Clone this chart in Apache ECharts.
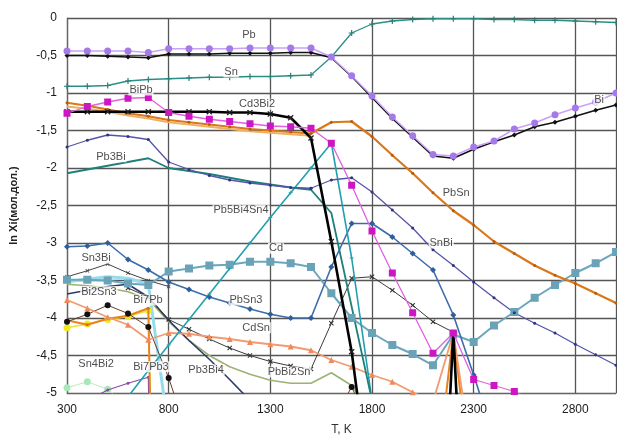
<!DOCTYPE html>
<html>
<head>
<meta charset="utf-8">
<script src="https://cdn.jsdelivr.net/npm/echarts@6/dist/echarts.min.js"></script>
<style>
  html, body { margin: 0; padding: 0; background: #fff; }
  #chart { width: 617px; height: 442px; }
</style>
</head>
<body>
<div id="chart"></div>
<script>
// Temperatures, K
const temps = [300, 400, 500, 600, 700, 800, 900, 1000, 1100, 1200, 1300, 1400, 1500, 1600,
  1700, 1800, 1900, 2000, 2100, 2200, 2300, 2400, 2500, 2600, 2700, 2800, 2900, 3000];

const N = null;
// ln Xi (mole fraction) of each species
const pb = [-0.44, -0.44, -0.44, -0.44, -0.46, -0.41, -0.41, -0.41, -0.41, -0.40, -0.40, -0.40, -0.40, -0.52,
  -0.77, -1.04, -1.32, -1.57, -1.82, -1.84, -1.72, -1.64, -1.48, -1.40, -1.29, -1.20, -1.12, -1.00];
const bi = [-0.50, -0.50, -0.51, -0.52, -0.53, -0.48, -0.48, -0.48, -0.47, -0.47, -0.47, -0.46, -0.46, -0.53,
  -0.78, -1.06, -1.34, -1.59, -1.84, -1.87, -1.75, -1.65, -1.56, -1.45, -1.39, -1.31, -1.23, -1.16];
const sn = [-0.91, -0.91, -0.90, -0.84, -0.82, -0.81, -0.80, -0.79, -0.79, -0.78, -0.78, -0.77, -0.76, -0.52,
  -0.20, -0.08, -0.04, -0.02, -0.01, -0.01, -0.01, -0.02, -0.02, -0.03, -0.03, -0.04, -0.05, -0.06];
const biPb = [-1.27, -1.18, -1.12, -1.07, -1.06, -1.26, -1.31, -1.35, -1.38, -1.41, -1.44, -1.45, -1.47, -1.67,
  -2.23, -2.84, -3.40, -3.93, -4.47, -4.20, -4.82, -4.90, -4.98, -5.10, N, N, N, N];
const cd3Bi2 = [-1.25, -1.25, -1.25, -1.25, -1.25, -1.25, -1.25, -1.25, -1.26, -1.26, -1.28, -1.33, -1.60, -2.98,
  -4.45, -6.5, -7.5, -8.5, -9.5, -4.20, -9.5, N, N, N, N, N, N, N];
const pbSn = [-1.13, -1.17, -1.22, -1.27, -1.31, -1.36, -1.39, -1.42, -1.45, -1.48, -1.50, -1.52, -1.54, -1.39,
  -1.38, -1.58, -1.83, -2.07, -2.33, -2.57, -2.76, -2.98, -3.14, -3.30, -3.43, -3.54, -3.67, -3.80];
const pbSnB = [-1.18, -1.21, -1.25, -1.30, -1.34, -1.39, -1.42, -1.45, -1.48, -1.51, -1.53, -1.55, -1.57, N,
  N, N, N, N, N, N, N, N, N, N, N, N, N, N];
const pb3Bi = [-1.72, -1.63, -1.56, -1.58, -1.62, -1.92, -2.02, -2.10, -2.16, -2.20, -2.23, -2.26, -2.27, N,
  N, N, N, N, N, N, N, N, N, N, N, N, N, N];
const snBi = [N, N, N, N, N, N, N, N, N, N, N, N, -2.27, -2.16,
  -2.13, -2.32, -2.56, -2.80, -3.09, -3.30, -3.52, -3.73, -3.93, -4.07, -4.20, -4.35, -4.49, -4.63];
const pb2Bi = [-2.07, -2.02, -1.97, -1.92, -1.87, -2.00, -2.04, -2.08, -2.13, -2.18, -2.22, -2.26, -2.29, -2.60,
  -3.85, -5.10, N, N, N, N, N, N, N, N, N, N, N, N];
const pb5Bi4Sn4 = [N, N, N, -5.05, -4.70, -4.36, -4.02, -3.68, -3.34, -3.00, -2.66, -2.33, -2.00, -1.67,
  -3.20, -5.10, N, N, N, N, N, N, N, N, N, N, N, N];
const pbSn3 = [-3.05, -3.04, -3.00, -3.22, -3.36, -3.52, -3.62, -3.72, -3.80, -3.88, -3.95, -4.00, -4.00, -3.32,
  -2.74, -2.74, -2.92, -3.14, -3.36, -3.96, -4.76, -5.60, N, N, N, N, N, N];
const cd = [-3.49, -3.49, -3.50, -3.54, -3.56, -3.38, -3.34, -3.30, -3.29, -3.25, -3.25, -3.27, -3.32, -3.67,
  -4.00, -4.20, -4.36, -4.48, -4.63, -4.22, -4.32, -4.10, -3.92, -3.73, -3.56, -3.40, -3.27, -3.12];
const cdSn = [-3.76, -3.87, -3.99, -4.09, -4.29, -4.20, -4.21, -4.25, -4.28, -4.32, -4.35, -4.38, -4.43, -4.56,
  -4.65, -4.76, -4.85, -4.99, -5.12, -4.20, -6.00, N, N, N, N, N, N, N];
const sn3Bi = [-3.45, -3.37, -3.28, -3.40, -3.50, -3.58, N, N, N, N, N, N, N, N,
  N, N, N, N, N, N, N, N, N, N, N, N, N, N];
const bi2Sn3 = [-3.68, -3.63, -3.58, -3.55, -3.72, -4.03, -4.30, -4.55, -4.82, -5.10, N, N, N, N,
  N, N, N, N, N, N, N, N, N, N, N, N, N, N];
const pbBi2Sn = [N, N, N, -3.60, -3.72, -4.02, -4.15, -4.28, -4.40, -4.50, -4.58, -4.64, -4.68, -4.07,
  -3.47, -3.45, -3.63, -3.83, -4.05, -4.19, -9.0, N, N, N, N, N, N, N];
const pb3Bi4 = [-4.05, -3.95, -3.83, -3.94, -4.12, -4.80, -5.60, N, N, N, N, N, N, -5.40,
  -4.92, -5.50, N, N, N, N, N, N, N, N, N, N, N, N];
const bi7Pb = [-4.03, -4.09, -4.01, -3.97, -3.87, -18, N, N, N, N, N, N, N, N,
  N, N, N, N, -6.5, -4.20, -6.5, N, N, N, N, N, N, N];
const bi2Pb = [-4.13, -4.08, -4.02, -3.98, -3.90, -16, N, N, N, N, N, N, N, N,
  N, N, N, N, N, N, N, N, N, N, N, N, N, N];
const sn4Bi2 = [-4.93, -4.85, -4.95, -5.20, N, N, N, N, N, N, N, N, N, N,
  N, N, N, N, N, N, N, N, N, N, N, N, N, N];
const bi7Pb3 = [N, -5.10, -4.96, -4.87, -4.79, -20, N, N, N, N, N, N, N, N,
  N, N, N, N, N, N, N, N, N, N, N, N, N, N];
const pbBiSn = [-3.55, -3.57, -3.60, -3.65, -3.75, -4.05, -4.30, -4.50, -4.65, -4.75, -4.83, -4.87, -4.87, -4.73,
  -4.90, -5.30, N, N, N, N, N, N, N, N, N, N, N, N];
const sn2Bi = [-3.52, -3.48, -3.45, -3.47, -3.55, -5.50, N, N, N, N, N, N, N, N,
  N, N, N, N, N, N, N, N, N, N, N, N, N, N];

// Species names written beside the curves: [T, ln Xi, text]
const curveNames = [
  [1195, -0.23, 'Pb'], [1107, -0.72, 'Sn'], [664, -0.96, 'BiPb'], [1235, -1.15, 'Cd3Bi2'],
  [2917, -1.09, 'Bi'], [516, -1.85, 'Pb3Bi'], [2214, -2.33, 'PbSn'], [1156, -2.56, 'Pb5Bi4Sn4'],
  [2140, -3.0, 'SnBi'], [1328, -3.07, 'Cd'], [443, -3.2, 'Sn3Bi'], [1180, -3.76, 'PbSn3'],
  [457, -3.65, 'Bi2Sn3'], [698, -3.76, 'Bi7Pb'], [1230, -4.13, 'CdSn'], [443, -4.61, 'Sn4Bi2'],
  [713, -4.65, 'Bi7Pb3'], [984, -4.69, 'Pb3Bi4'], [1392, -4.72, 'PbBi2Sn']
];

const yTicks = { min: -5, max: 0, step: 0.5 };
const xTicks = { min: 300, max: 3000, step: 500 };

const plusSym = 'path://M4,0h2v10h-2z M0,4h10v2h-10z';
const crossSym = 'path://M0,1.5L1.5,0L5,3.5L8.5,0L10,1.5L6.5,5L10,8.5L8.5,10L5,6.5L1.5,10L0,8.5L3.5,5Z';
const font = 'Liberation Sans, Arial, sans-serif';

function pts(vals) {
  return temps.map((t, i) => (vals[i] == null ? [t, '-'] : [t, vals[i]]));
}
function line(name, vals, color, width, symbol, size, symColor, z) {
  return {
    name: name, type: 'line', data: pts(vals), clip: true,
    lineStyle: { color: color, width: width },
    itemStyle: { color: symColor || color },
    symbol: symbol || 'none', symbolSize: size || 0, showSymbol: !!symbol,
    z: z || 2, silent: true
  };
}

const series = [
  line('Sn2Bi', sn2Bi, '#97dcea', 3, null, 0, null, 1),
  line('Sn4Bi2', sn4Bi2, '#b8ecc4', 1, 'circle', 7, '#a8e8b8', 1),
  line('Bi2Pb', bi2Pb, '#e8df3a', 1.5, 'circle', 7, '#f0e820', 2),
  line('Bi7Pb3', bi7Pb3, '#8a4aa8', 1.2, 'circle', 3, '#8a4aa8', 2),
  line('PbBiSn', pbBiSn, '#9db272', 1.6, null, 0, null, 2),
  line('Bi7Pb', bi7Pb, '#e8841c', 2, 'circle', 3, '#d0701a', 3),
  line('Pb3Bi4', pb3Bi4, '#6a3a2a', 1, 'circle', 6, '#111', 3),
  line('Bi2Sn3', bi2Sn3, '#2b3a6a', 1.6, null, 0, null, 3),
  line('PbBi2Sn', pbBi2Sn, '#3a3a3a', 1, crossSym, 5, '#333', 3),
  line('Sn3Bi', sn3Bi, '#444', 1, crossSym, 4, '#444', 3),
  line('CdSn', cdSn, '#f29a70', 1.8, 'triangle', 6, '#f08a5a', 3),
  line('Cd', cd, '#6aa6bd', 2, 'rect', 8, '#6aa2b8', 4),
  line('PbSn3', pbSn3, '#3d6da8', 1.6, 'diamond', 6, '#2f5e9c', 4),
  line('Pb5Bi4Sn4', pb5Bi4Sn4, '#22a0b0', 1.6, plusSym, 4, '#22a0b0', 4),
  line('Pb2Bi', pb2Bi, '#1f7f7a', 1.8, null, 0, null, 4),
  line('SnBi', snBi, '#5555aa', 1.3, 'circle', 3, '#33337a', 4),
  line('Pb3Bi', pb3Bi, '#5555aa', 1.3, 'circle', 3, '#33337a', 4),
  line('PbSnB', pbSnB, '#f0b060', 2, null, 0, null, 4),
  line('PbSn', pbSn, '#d9771a', 2.2, 'circle', 3, '#b85c10', 5),
  line('Cd3Bi2', cd3Bi2, '#000', 2.6, crossSym, 6, '#222', 6),
  line('BiPb', biPb, '#e060e0', 1.3, 'rect', 7, '#cc16c4', 6),
  line('Sn', sn, '#2a8f86', 1.3, plusSym, 6, '#2a7f78', 6),
  line('Bi', bi, '#111', 1.5, 'diamond', 5, '#111', 7),
  line('Pb', pb, '#c8a2f8', 1.5, 'circle', 7, '#a47ae8', 7),
  {
    name: 'names', type: 'scatter', symbolSize: 0, silent: true, z: 20,
    data: curveNames.map(d => ({ value: [d[0], d[1]], name: d[2] })),
    label: {
      show: true, position: 'inside', formatter: '{b}',
      fontFamily: font, fontSize: 11, color: '#222',
      backgroundColor: '#fff', padding: [0, 1]
    }
  }
];

const chart = echarts.init(document.getElementById('chart'), null, { renderer: 'canvas' });
chart.setOption({
  animation: false,
  backgroundColor: '#fff',
  grid: { left: 66, right: 1, top: 18, bottom: 49, containLabel: false },
  xAxis: {
    type: 'value', min: xTicks.min, max: xTicks.max, interval: xTicks.step,
    name: 'T, K', nameLocation: 'middle', nameGap: 31,
    nameTextStyle: { fontFamily: font, fontSize: 12, color: '#333' },
    axisLine: { show: true, onZero: false, lineStyle: { color: '#666', width: 1.2 } },
    axisTick: { show: false },
    axisLabel: {
      showMaxLabel: false, margin: 11, fontFamily: font, fontSize: 12, color: '#1a1a1a',
      formatter: v => String(v)
    },
    splitLine: { show: true, lineStyle: { color: '#555', width: 1.3 } }
  },
  yAxis: {
    type: 'value', min: yTicks.min, max: yTicks.max, interval: yTicks.step,
    name: 'ln Xi(мол.дол.)', nameLocation: 'middle', nameGap: 48, nameRotate: 90,
    nameTextStyle: { fontFamily: font, fontSize: 11, fontWeight: 'bold', color: '#222' },
    axisLine: { show: true, lineStyle: { color: '#666', width: 1.2 } },
    axisTick: { show: false },
    axisLabel: {
      margin: 10, fontFamily: font, fontSize: 12, color: '#1a1a1a',
      formatter: v => String(Math.round(v * 10) / 10).replace('.', ',')
    },
    splitLine: { show: true, lineStyle: { color: '#555', width: 1.3 } }
  },
  series: series
});
</script>
</body>
</html>
